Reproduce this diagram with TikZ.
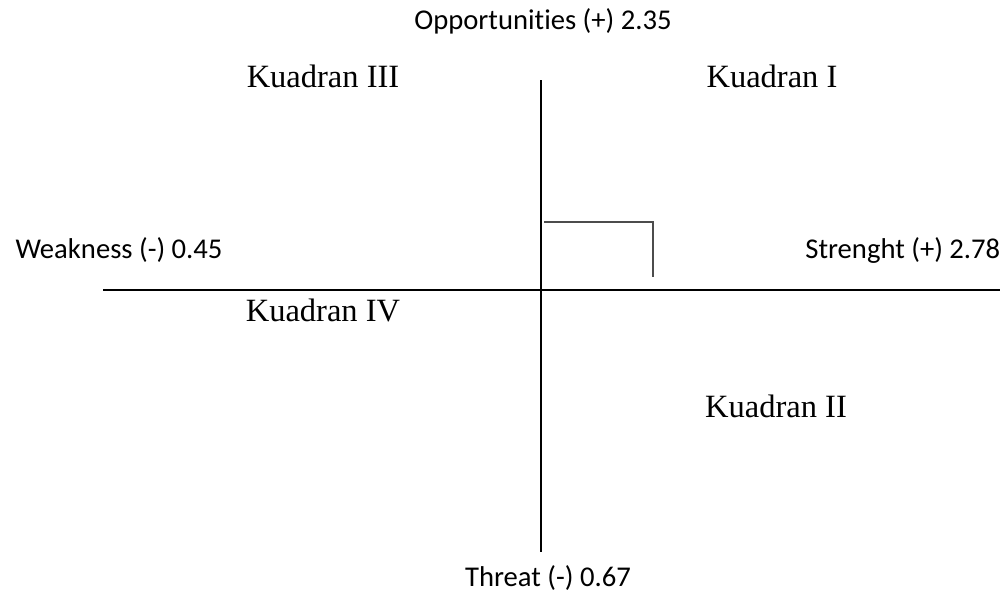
\documentclass[tikz,border=0pt]{standalone}
\usepackage{fontspec}
\setmainfont{Liberation Serif}
\setsansfont[Ligatures=CommonOff]{Carlito}
\usetikzlibrary{positioning}

\begin{document}
\begin{tikzpicture}[x=0.02cm,y=-0.02cm,
						axis/.style={line width=1.1pt},
						marker/.style={draw=black!70,line width=1pt},
						factor/.style={font=\sffamily\fontsize{16.3}{18}\selectfont,inner sep=0pt},
						quad/.style={font=\fontsize{18.5}{22}\selectfont,inner sep=0pt}]
		\useasboundingbox (0,0) rectangle (1000,592);

		% axes
		\coordinate (top)		at (541,80);
		\coordinate (bottom)	at (541,552);
		\coordinate (left)	at (103,290);
		\coordinate (right)	at (1000,290);
		\draw[axis] (top) -- (bottom);
		\draw[axis] (left) -- (right);

		% position marker
		\coordinate (m0)	at (544,222);
		\coordinate (m1)	at (653,222);
		\coordinate (m2)	at (653,277);
		\draw[marker] (m0) -- (m1) -- (m2);

		\node[factor]	(opp)		at (543,21)		{Opportunities (+) 2.35};
		\node[factor]	(threat)	at (548,578)	{Threat (-) 0.67};
		\node[factor]	(weak)	at (119,250)	{Weakness (-) 0.45};
		\node[factor,anchor=west]	(str)	at (805,250)	{Strenght (+) 2.78};

		\node[quad]	(q3)	at (323,76)		{Kuadran III};
		\node[quad]	(q1)	at (772,76)		{Kuadran I};
		\node[quad]	(q4)	at (323,310)	{Kuadran IV};
		\node[quad]	(q2)	at (776,406)	{Kuadran II};
	\end{tikzpicture}
\end{document}
